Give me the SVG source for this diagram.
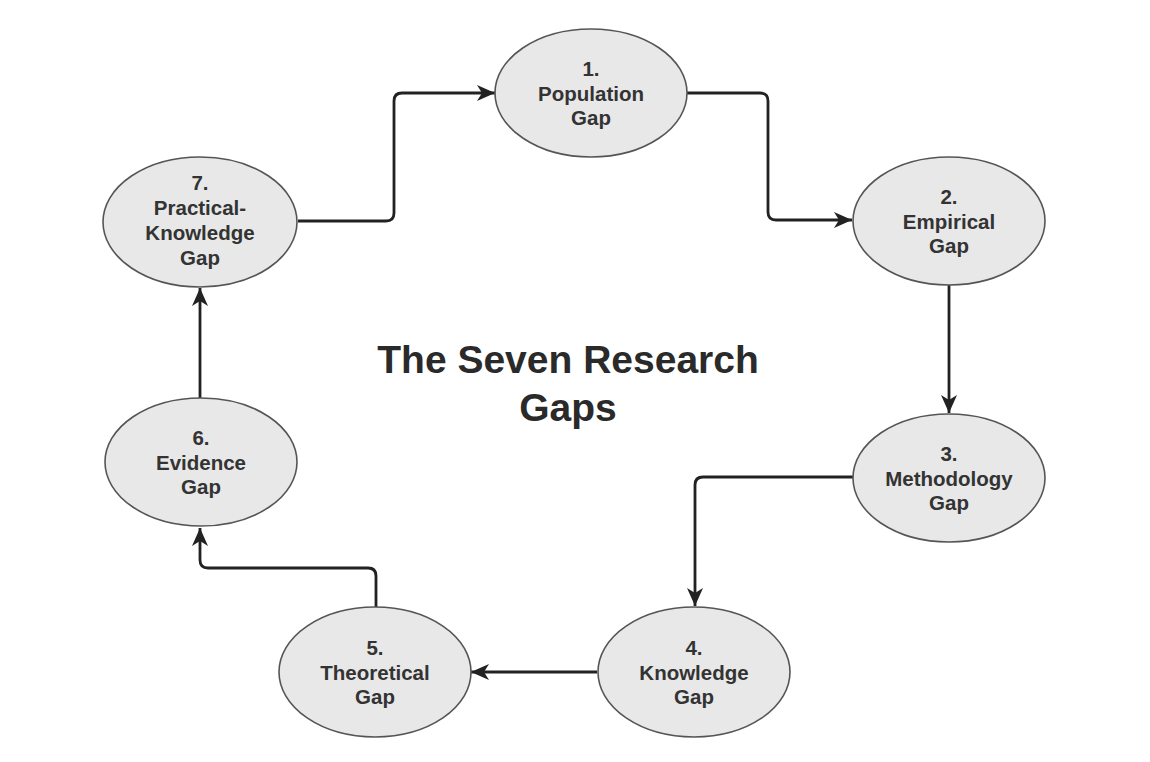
<svg xmlns="http://www.w3.org/2000/svg" width="1150" height="762" viewBox="0 0 1150 762">
<style>
.node ellipse{fill:#e8e8e8;stroke:#555;stroke-width:1.6}
.node text{font-family:"Liberation Sans",Arial,sans-serif;font-weight:bold;font-size:20.5px;fill:#333;text-anchor:middle}
.title{font-family:"Liberation Sans",Arial,sans-serif;font-weight:bold;font-size:39px;fill:#2a2a2a;text-anchor:middle}
#connectors path{fill:none;stroke:#222;stroke-width:2.8;marker-end:url(#arr)}
</style>
<defs>
<marker id="arr" markerUnits="userSpaceOnUse" markerWidth="20" markerHeight="18" refX="18" refY="8" orient="auto">
<path d="M0,0 L18,8 L0,16 L5,8 Z" fill="#222"/>
</marker>
</defs>
<rect width="1150" height="762" fill="#fff"/>
<g id="connectors">
<path d="M298,221 L386,221 Q394,221 394,213 L394,101 Q394,93 402,93 L495,93"/>
<path d="M687,93 L760,93 Q768,93 768,101 L768,212 Q768,220 776,220 L852,220"/>
<path d="M949,285 L949,413"/>
<path d="M853,477 L703,477 Q695,477 695,485 L695,606"/>
<path d="M597,672 L471,672"/>
<path d="M376,607 L376,576 Q376,568 368,568 L208,568 Q200,568 200,560 L200,528"/>
<path d="M200,398 L200,288"/>
</g>
<g id="node1" class="node">
<ellipse cx="591" cy="93" rx="96" ry="64"/>
<text x="591" y="76">1.</text>
<text x="591" y="101">Population</text>
<text x="591" y="125">Gap</text>
</g>
<g id="node2" class="node">
<ellipse cx="949" cy="221" rx="96" ry="64"/>
<text x="949" y="204">2.</text>
<text x="949" y="229">Empirical</text>
<text x="949" y="253">Gap</text>
</g>
<g id="node3" class="node">
<ellipse cx="949" cy="478" rx="96" ry="64"/>
<text x="949" y="461">3.</text>
<text x="949" y="486">Methodology</text>
<text x="949" y="510">Gap</text>
</g>
<g id="node4" class="node">
<ellipse cx="694" cy="672" rx="96" ry="65"/>
<text x="694" y="655">4.</text>
<text x="694" y="680">Knowledge</text>
<text x="694" y="704">Gap</text>
</g>
<g id="node5" class="node">
<ellipse cx="375" cy="672" rx="96" ry="65"/>
<text x="375" y="655">5.</text>
<text x="375" y="680">Theoretical</text>
<text x="375" y="704">Gap</text>
</g>
<g id="node6" class="node">
<ellipse cx="201" cy="462" rx="96" ry="64"/>
<text x="201" y="445">6.</text>
<text x="201" y="470">Evidence</text>
<text x="201" y="494">Gap</text>
</g>
<g id="node7" class="node">
<ellipse cx="200" cy="222" rx="97" ry="65"/>
<text x="200" y="190">7.</text>
<text x="200" y="215">Practical-</text>
<text x="200" y="240">Knowledge</text>
<text x="200" y="265">Gap</text>
</g>
<g id="title">
<text class="title" x="568" y="373">The Seven Research</text>
<text class="title" x="568" y="421">Gaps</text>
</g>
</svg>
